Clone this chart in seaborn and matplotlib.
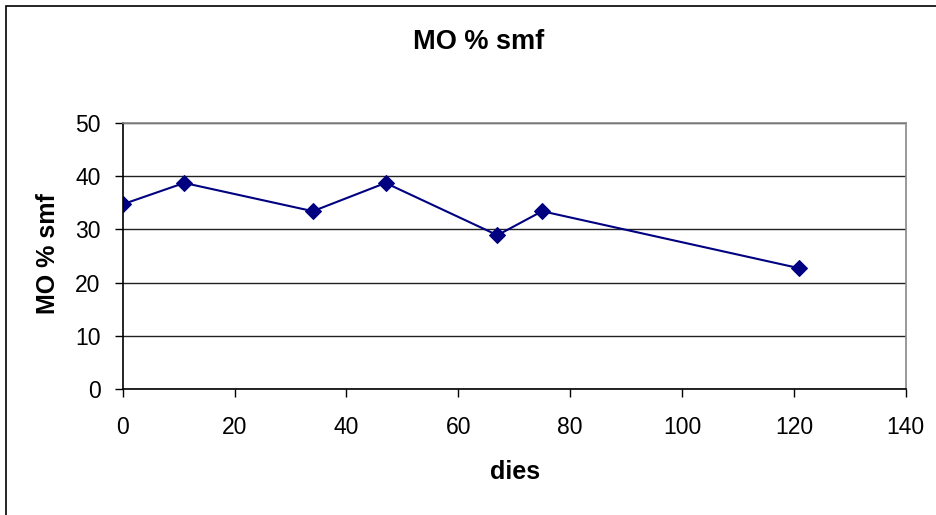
import matplotlib
matplotlib.use("Agg")
import matplotlib.pyplot as plt
import seaborn as sns
import pandas as pd
from matplotlib.patches import Rectangle

dies = [0, 11, 34, 47, 67, 75, 121]
mo_smf = [34.7, 38.7, 33.4, 38.7, 28.9, 33.4, 22.7]
x_ticks = [0, 20, 40, 60, 80, 100, 120, 140]
y_ticks = [0, 10, 20, 30, 40, 50]

sns.set_style("white")
plt.rcParams['font.family'] = ['Liberation Sans', 'DejaVu Sans']
plt.rcParams['text.color'] = 'black'

df = pd.DataFrame({"dies": dies, "mo": mo_smf})

W, H = 937, 515
fig = plt.figure(figsize=(W / 100, H / 100), dpi=100)
ax = fig.add_axes([122.7 / W, 1 - 389.3 / H, (905.7 - 122.7) / W, (389.3 - 122.7) / H])

sns.lineplot(data=df, x="dies", y="mo", ax=ax, color="#000080", linewidth=1.5,
             marker="D", markersize=8.5, markeredgecolor="#000080")

ax.set_xlim(0, 140)
ax.set_ylim(0, 50)
ax.set_xticks(x_ticks)
ax.set_yticks(y_ticks)
ax.yaxis.grid(True, color="#222222", linewidth=1)
ax.xaxis.grid(False)
ax.set_axisbelow(True)

for s in ["left", "bottom"]:
    ax.spines[s].set_color("black")
    ax.spines[s].set_linewidth(1.2)
for s in ["right", "top"]:
    ax.spines[s].set_color("#888888")
    ax.spines[s].set_linewidth(1.2)

ax.tick_params(axis="both", which="major", direction="out", length=6, width=1,
               color="black", labelsize=16.5, labelcolor="black",
               left=True, bottom=True)
ax.tick_params(axis="y", pad=10)
ax.tick_params(axis="x", pad=13)

ax.set_xlabel("")
ax.set_ylabel("")
fig.text(515 / W, 1 - 472 / H, "dies", ha="center", va="center",
         fontsize=18, fontweight="bold", color="black")
fig.text(48 / W, 1 - 254 / H, "MO % smf", ha="center", va="center",
         rotation=90, fontsize=18, fontweight="bold", color="black")
fig.text(478.7 / W, 1 - 42 / H, "MO % smf", ha="center", va="center",
         fontsize=19.5, fontweight="bold", color="black")

fig.patches.append(Rectangle((6 / W, -0.1), 1.2, 1 - 6 / H + 0.1, transform=fig.transFigure,
                             fill=False, edgecolor="black", linewidth=1.2))

fig.savefig("out.png", dpi=100)
